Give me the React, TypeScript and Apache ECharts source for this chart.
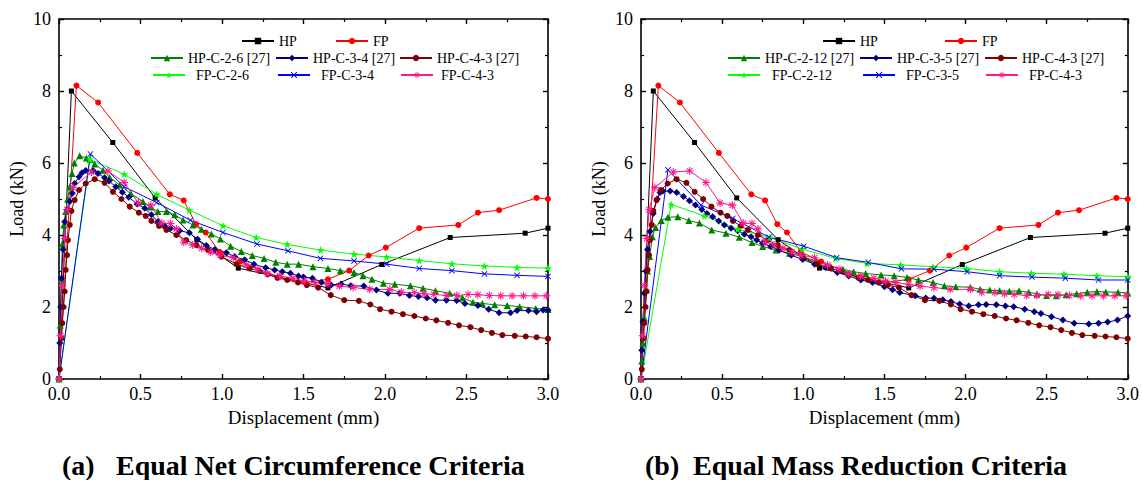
import React, { useEffect, useRef } from "react";
import * as echarts from "echarts";

// ---------- data (x: displacement mm, y: load kN) ----------
const HP: number[][] = [[0,0],[0.076,8.0],[0.33,6.57],[0.59,5.03],[0.845,3.87],[1.1,3.08],[1.65,2.53],[1.98,3.18],[2.4,3.93],[2.86,4.05],[3.0,4.19]];
const FP: number[][] = [[0,0],[0.107,8.15],[0.24,7.68],[0.48,6.28],[0.68,5.13],[0.765,4.96],[0.84,4.3],[0.9,4.07],[0.985,3.53],[1.11,3.26],[1.35,2.83],[1.51,2.68],[1.65,2.77],[1.78,3.01],[1.9,3.43],[2.005,3.65],[2.21,4.19],[2.45,4.28],[2.57,4.62],[2.7,4.69],[2.93,5.03],[3.0,5.0]];
const HP_C_2_6: number[][] = [[0,0],[0.008,1.5],[0.015,2.8],[0.02,3.75],[0.029,4.28],[0.041,4.65],[0.053,4.99],[0.066,5.34],[0.08,5.71],[0.094,6.0],[0.127,6.2],[0.168,6.14],[0.19,6.1],[0.219,5.97],[0.27,5.8],[0.311,5.6],[0.372,5.39],[0.44,5.15],[0.515,4.93],[0.56,4.78],[0.607,4.65],[0.659,4.65],[0.71,4.56],[0.761,4.42],[0.822,4.28],[0.874,4.16],[0.935,4.03],[0.99,3.89],[1.053,3.69],[1.119,3.54],[1.186,3.43],[1.258,3.35],[1.33,3.24],[1.4,3.19],[1.47,3.19],[1.558,3.12],[1.65,3.07],[1.726,3.01],[1.81,2.96],[1.865,2.87],[1.92,2.77],[1.99,2.66],[2.06,2.63],[2.156,2.59],[2.233,2.52],[2.31,2.45],[2.397,2.38],[2.475,2.26],[2.54,2.13],[2.597,2.1],[2.673,2.06],[2.75,2.04],[2.826,2.01],[2.925,1.96],[3.0,1.93]];
const HP_C_3_4: number[][] = [[0,0],[0.005,1.0],[0.01,2.0],[0.015,2.8],[0.025,3.6],[0.035,4.37],[0.05,4.7],[0.066,4.93],[0.082,5.16],[0.096,5.43],[0.123,5.62],[0.141,5.73],[0.164,5.79],[0.209,5.79],[0.239,5.71],[0.28,5.59],[0.307,5.5],[0.348,5.34],[0.389,5.19],[0.428,5.05],[0.479,4.86],[0.526,4.74],[0.567,4.56],[0.607,4.37],[0.648,4.25],[0.685,4.19],[0.74,4.12],[0.8,4.06],[0.85,3.88],[0.904,3.71],[0.955,3.6],[1.027,3.51],[1.078,3.4],[1.139,3.31],[1.196,3.19],[1.268,3.09],[1.323,3.03],[1.37,2.98],[1.42,2.94],[1.469,2.86],[1.5,2.83],[1.555,2.8],[1.61,2.69],[1.67,2.61],[1.73,2.64],[1.79,2.59],[1.87,2.58],[1.947,2.47],[2.018,2.38],[2.09,2.38],[2.15,2.32],[2.205,2.29],[2.258,2.26],[2.31,2.19],[2.377,2.19],[2.44,2.18],[2.49,2.1],[2.57,2.04],[2.636,1.94],[2.7,1.84],[2.77,1.84],[2.81,1.9],[2.88,1.9],[2.93,1.87],[2.97,1.92],[3.0,1.92]];
const HP_C_4_3: number[][] = [[0,0],[0.005,0.27],[0.015,1.13],[0.02,1.55],[0.028,2.0],[0.035,2.43],[0.041,3.03],[0.049,3.44],[0.055,3.86],[0.066,4.28],[0.076,4.67],[0.096,4.97],[0.123,5.25],[0.164,5.43],[0.219,5.55],[0.28,5.45],[0.331,5.2],[0.383,5.0],[0.434,4.79],[0.49,4.62],[0.532,4.53],[0.567,4.39],[0.614,4.25],[0.659,4.14],[0.72,4.0],[0.78,3.86],[0.843,3.72],[0.915,3.58],[0.996,3.4],[1.088,3.19],[1.17,3.07],[1.23,3.0],[1.28,2.91],[1.34,2.81],[1.4,2.75],[1.466,2.68],[1.52,2.61],[1.59,2.54],[1.667,2.33],[1.75,2.19],[1.84,2.17],[1.91,2.07],[1.97,1.94],[2.04,1.87],[2.11,1.8],[2.18,1.75],[2.25,1.68],[2.315,1.63],[2.387,1.56],[2.454,1.49],[2.524,1.44],[2.59,1.36],[2.656,1.28],[2.72,1.22],[2.796,1.2],[2.863,1.18],[2.93,1.16],[3.0,1.12]];
const FP_C_2_6: number[][] = [[0,0],[0.19,6.1],[0.4,5.69],[0.6,5.13],[0.8,4.69],[1.006,4.26],[1.21,3.93],[1.4,3.74],[1.605,3.58],[1.81,3.47],[2.01,3.39],[2.21,3.29],[2.41,3.2],[2.61,3.14],[2.81,3.1],[3.0,3.08]];
const FP_C_3_4: number[][] = [[0,0],[0.193,6.25],[0.4,5.34],[0.6,4.9],[0.806,4.41],[1.006,4.07],[1.215,3.75],[1.405,3.56],[1.604,3.35],[1.81,3.28],[2.01,3.19],[2.21,3.07],[2.41,3.01],[2.61,2.92],[2.81,2.88],[3.0,2.85]];
const FP_C_4_3: number[][] = [[0,0],[0.01,1.2],[0.02,2.6],[0.035,3.9],[0.05,4.7],[0.086,5.32],[0.199,5.75],[0.3,5.78],[0.4,5.46],[0.487,4.89],[0.563,4.83],[0.63,4.33],[0.684,4.32],[0.72,4.17],[0.765,3.8],[0.82,3.72],[0.875,3.63],[0.93,3.52],[0.986,3.44],[1.07,3.37],[1.15,3.17],[1.22,3.05],[1.28,2.92],[1.354,2.86],[1.436,2.8],[1.507,2.72],[1.57,2.68],[1.65,2.63],[1.72,2.58],[1.805,2.54],[1.906,2.49],[2.03,2.49],[2.1,2.41],[2.18,2.4],[2.24,2.37],[2.3,2.35],[2.377,2.32],[2.44,2.32],[2.51,2.35],[2.57,2.34],[2.64,2.32],[2.71,2.31],[2.78,2.31],[2.85,2.31],[2.92,2.31],[2.99,2.31]];
const HP_C_2_12: number[][] = [[0,0],[0.005,0.5],[0.012,1.0],[0.02,1.7],[0.03,2.5],[0.04,3.0],[0.053,3.4],[0.07,3.95],[0.09,4.21],[0.125,4.4],[0.166,4.49],[0.227,4.51],[0.295,4.4],[0.36,4.33],[0.436,4.14],[0.524,4.05],[0.606,3.94],[0.684,3.79],[0.75,3.68],[0.832,3.58],[0.915,3.49],[0.996,3.4],[1.08,3.27],[1.17,3.12],[1.245,3.05],[1.31,2.98],[1.385,2.93],[1.48,2.89],[1.56,2.87],[1.64,2.82],[1.71,2.75],[1.8,2.68],[1.87,2.59],[1.94,2.56],[2.03,2.55],[2.09,2.49],[2.15,2.47],[2.21,2.45],[2.27,2.44],[2.33,2.45],[2.39,2.41],[2.44,2.36],[2.5,2.32],[2.56,2.31],[2.62,2.34],[2.685,2.37],[2.75,2.41],[2.81,2.43],[2.865,2.42],[2.94,2.41],[3.0,2.39]];
const HP_C_3_5: number[][] = [[0,0],[0.005,0.8],[0.012,1.6],[0.02,2.38],[0.03,3.0],[0.04,3.6],[0.055,4.1],[0.075,4.6],[0.1,5.0],[0.117,5.18],[0.135,5.22],[0.18,5.22],[0.22,5.18],[0.262,5.07],[0.299,4.95],[0.336,4.83],[0.375,4.71],[0.406,4.6],[0.442,4.51],[0.479,4.39],[0.514,4.28],[0.555,4.19],[0.596,4.12],[0.637,4.02],[0.678,3.95],[0.713,3.86],[0.749,3.77],[0.8,3.68],[0.852,3.58],[0.926,3.44],[0.997,3.32],[1.07,3.19],[1.14,3.09],[1.21,2.96],[1.28,2.86],[1.355,2.75],[1.427,2.68],[1.5,2.56],[1.55,2.48],[1.595,2.4],[1.69,2.31],[1.755,2.25],[1.806,2.24],[1.86,2.2],[1.91,2.15],[1.964,2.08],[2.02,2.03],[2.08,2.06],[2.127,2.07],[2.19,2.06],[2.246,2.03],[2.297,2.01],[2.365,1.94],[2.424,1.87],[2.465,1.82],[2.53,1.73],[2.6,1.64],[2.67,1.55],[2.76,1.53],[2.82,1.55],[2.876,1.58],[2.937,1.64],[3.0,1.75]];
const FP_C_2_12: number[][] = [[0,0],[0.186,4.85],[0.39,4.53],[0.596,4.16],[0.795,3.93],[0.993,3.61],[1.2,3.35],[1.395,3.21],[1.6,3.17],[1.8,3.12],[2.005,3.07],[2.21,2.98],[2.405,2.94],[2.607,2.91],[2.81,2.87],[3.0,2.84]];
const FP_C_3_5: number[][] = [[0,0],[0.166,5.81],[0.37,4.83],[0.565,4.46],[0.79,3.94],[1.003,3.69],[1.206,3.37],[1.4,3.24],[1.605,3.06],[1.806,3.05],[2.01,2.98],[2.21,2.87],[2.41,2.83],[2.615,2.8],[2.82,2.75],[3.0,2.75]];

const TITLE_A = ["(a)", "Equal Net Circumference Criteria"];
const TITLE_B = ["(b)", "Equal Mass Reduction Criteria"];

// ---------- styling ----------
const FONT = "Liberation Serif";
const STAR = "path://M0,-10L2.35,-3.24L9.51,-3.09L3.8,1.24L5.88,8.09L0,4L-5.88,8.09L-3.8,1.24L-9.51,-3.09L-2.35,-3.24Z";
const CROSS = "path://M-10,-8L-8,-10L0,-2L8,-10L10,-8L2,0L10,8L8,10L0,2L-8,10L-10,8L-2,0Z";
const ASTER = "path://M-1.3,-10H1.3V10H-1.3Z M-10,-1.3H10V1.3H-10Z M-8,-6.2L-6.2,-8L8,6.2L6.2,8Z M6.2,-8L8,-6.2L-6.2,8L-8,6.2Z";

type Spec = { name: string; data: number[][]; color: string; symbol: string; size: number };

const leftSeries: Spec[] = [
  { name: "HP", data: HP, color: "#000000", symbol: "rect", size: 5 },
  { name: "FP", data: FP, color: "#ff0000", symbol: "circle", size: 6 },
  { name: "HP-C-2-6 [27]", data: HP_C_2_6, color: "#008000", symbol: "triangle", size: 7 },
  { name: "HP-C-3-4 [27]", data: HP_C_3_4, color: "#000080", symbol: "diamond", size: 7 },
  { name: "HP-C-4-3 [27]", data: HP_C_4_3, color: "#800000", symbol: "circle", size: 6 },
  { name: "FP-C-2-6", data: FP_C_2_6, color: "#00ff00", symbol: STAR, size: 8 },
  { name: "FP-C-3-4", data: FP_C_3_4, color: "#0000ff", symbol: CROSS, size: 6 },
  { name: "FP-C-4-3", data: FP_C_4_3, color: "#ff1a8c", symbol: ASTER, size: 8 },
];
const rightSeries: Spec[] = [
  { name: "HP", data: HP, color: "#000000", symbol: "rect", size: 5 },
  { name: "FP", data: FP, color: "#ff0000", symbol: "circle", size: 6 },
  { name: "HP-C-2-12 [27]", data: HP_C_2_12, color: "#008000", symbol: "triangle", size: 7 },
  { name: "HP-C-3-5 [27]", data: HP_C_3_5, color: "#000080", symbol: "diamond", size: 7 },
  { name: "HP-C-4-3 [27]", data: HP_C_4_3, color: "#800000", symbol: "circle", size: 6 },
  { name: "FP-C-2-12", data: FP_C_2_12, color: "#00ff00", symbol: STAR, size: 8 },
  { name: "FP-C-3-5", data: FP_C_3_5, color: "#0000ff", symbol: CROSS, size: 6 },
  { name: "FP-C-4-3", data: FP_C_4_3, color: "#ff1a8c", symbol: ASTER, size: 8 },
];

// legend placement: [name, left, rowCenterY, extraTextPad]
const leftLegend: [string, number, number, number][] = [
  ["HP", 241, 42, 0], ["FP", 335, 42, 0],
  ["HP-C-2-6 [27]", 150, 59, 0], ["HP-C-3-4 [27]", 275, 59, 0], ["HP-C-4-3 [27]", 399, 59, 0],
  ["FP-C-2-6", 152, 76, 6], ["FP-C-3-4", 277, 76, 6], ["FP-C-4-3", 400, 76, 3],
];
const rightLegend: [string, number, number, number][] = [
  ["HP", 822, 42, 0], ["FP", 944, 42, 0],
  ["HP-C-2-12 [27]", 727, 59, 0], ["HP-C-3-5 [27]", 859, 59, 0], ["HP-C-4-3 [27]", 984, 59, 0],
  ["FP-C-2-12", 727, 76, 7], ["FP-C-3-5", 862, 76, 6], ["FP-C-4-3", 985, 76, 6],
];

const GRIDS = [
  { left: 59, top: 19, width: 489, height: 360 },
  { left: 641, top: 19, width: 488, height: 360 },
];

function xAxis(gi: number, pos: "bottom" | "top") {
  const main = pos === "bottom";
  return {
    type: "value", gridIndex: gi, position: pos, min: 0, max: 3, interval: 0.5,
    axisLine: { show: true, onZero: false, lineStyle: { color: "#000", width: 1.6 } },
    axisTick: { show: true, inside: true, length: 5, lineStyle: { color: "#000", width: 1.4 } },
    minorTick: { show: true, splitNumber: 2, length: 3, lineStyle: { color: "#000", width: 1.2 } },
    splitLine: { show: false },
    axisLabel: { show: main, formatter: (v: number) => v.toFixed(1), fontFamily: FONT, fontSize: 18, color: "#000", margin: 6 },
    name: main ? "Displacement (mm)" : "", nameLocation: "middle", nameGap: 29,
    nameTextStyle: { fontFamily: FONT, fontSize: 19, color: "#000" },
  };
}
function yAxis(gi: number, pos: "left" | "right") {
  const main = pos === "left";
  return {
    type: "value", gridIndex: gi, position: pos, min: 0, max: 10, interval: 2,
    axisLine: { show: true, onZero: false, lineStyle: { color: "#000", width: 1.6 } },
    axisTick: { show: true, inside: true, length: 5, lineStyle: { color: "#000", width: 1.4 } },
    minorTick: { show: true, splitNumber: 2, length: 3, lineStyle: { color: "#000", width: 1.2 } },
    splitLine: { show: false },
    axisLabel: { show: main, fontFamily: FONT, fontSize: 18, color: "#000", margin: 8 },
    name: main ? "Load (kN)" : "", nameLocation: "middle", nameGap: 33, nameRotate: 90,
    nameTextStyle: { fontFamily: FONT, fontSize: 18, color: "#000" },
  };
}

function toSeries(specs: Spec[], gi: number) {
  return specs.map((s) => ({
    type: "line", name: s.name, data: s.data, xAxisIndex: gi * 2, yAxisIndex: gi * 2,
    symbol: s.symbol, symbolSize: s.size, showSymbol: true,
    lineStyle: { color: s.color, width: 1 },
    itemStyle: { color: s.color },
    emphasis: { disabled: true },
  }));
}
function toLegends(items: [string, number, number, number][]) {
  return items.map(([name, left, cy, pad]) => ({
    data: [name], left, top: cy - 8, itemWidth: 32, itemHeight: 8, itemGap: 0, padding: 0,
    selectedMode: false,
    textStyle: { fontFamily: FONT, fontSize: 14, color: "#000", padding: [0, 0, 0, pad] },
  }));
}
function titleText(parts: string[], x1: number, x2: number) {
  const style = { fontFamily: FONT, fontSize: 28, fontWeight: "bold", fill: "#000" };
  return [
    { type: "text", left: x1, top: 451, style: { ...style, text: parts[0] } },
    { type: "text", left: x2, top: 451, style: { ...style, text: parts[1] } },
  ];
}

export default function App() {
  const ref = useRef<HTMLDivElement>(null);
  useEffect(() => {
    document.body.style.margin = "0";
    const chart = echarts.init(ref.current!, null, { renderer: "svg" });
    chart.setOption({
      animation: false,
      backgroundColor: "#ffffff",
      textStyle: { fontFamily: FONT },
      grid: GRIDS,
      xAxis: [xAxis(0, "bottom"), xAxis(0, "top"), xAxis(1, "bottom"), xAxis(1, "top")],
      yAxis: [yAxis(0, "left"), yAxis(0, "right"), yAxis(1, "left"), yAxis(1, "right")],
      legend: [...toLegends(leftLegend), ...toLegends(rightLegend)],
      series: [...toSeries(leftSeries, 0), ...toSeries(rightSeries, 1)],
      graphic: [...titleText(TITLE_A, 62, 116), ...titleText(TITLE_B, 645, 693)],
    });
    return () => chart.dispose();
  }, []);
  return <div ref={ref} style={{ width: 1142, height: 480 }} />;
}
